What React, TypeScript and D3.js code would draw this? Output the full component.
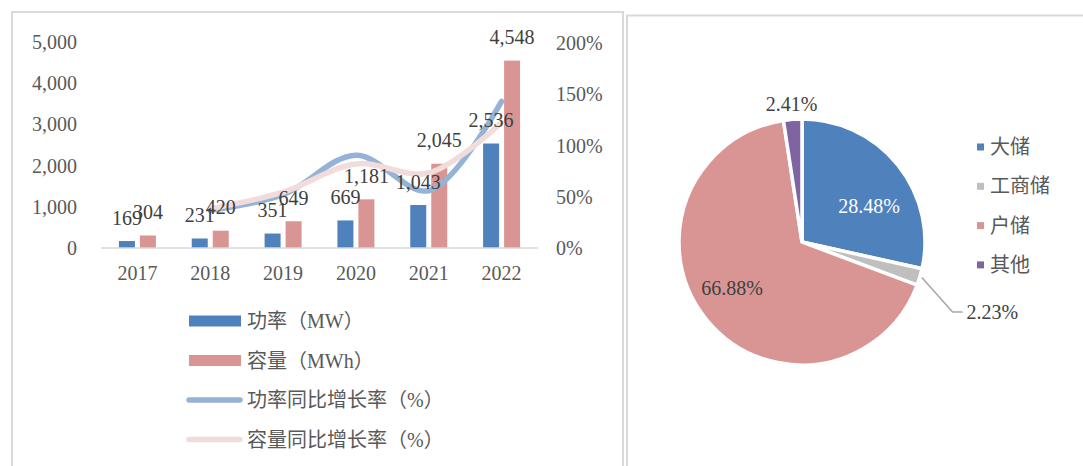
import React from "react";
import * as d3 from "d3";

const years = ["2017", "2018", "2019", "2020", "2021", "2022"];
const powerMW = [169, 231, 351, 669, 1043, 2536];
const capacityMWh = [304, 420, 649, 1181, 2045, 4548];
const powerGrowth: (number | null)[] = [null, 36.7, 52.0, 90.6, 55.9, 143.1];
const capacityGrowth: (number | null)[] = [null, 38.2, 54.5, 82.0, 73.2, 122.4];
const leftTicks = [0, 1000, 2000, 3000, 4000, 5000];
const rightTicks = [0, 50, 100, 150, 200];

const pieLabels = ["大储", "工商储", "户储", "其他"];
const pieValues = [28.48, 2.23, 66.88, 2.41];
const pieColors = ["#4f81bd", "#bfbfbf", "#d99594", "#8064a2"];

const barColors = ["#4f81bd", "#d99594"];
const lineColors = ["#95b3d7", "#f2dcdb"];

const FONT = "'Liberation Serif', 'Noto Sans CJK SC', serif";
const TXT = "#595959";

export default function App() {
  const x = d3.scaleBand<string>().domain(years).range([101, 538]);
  const sub = d3
    .scaleBand<string>()
    .domain(["p", "c"])
    .range([-18.5, 18.5])
    .paddingInner(0.238);
  const yL = d3.scaleLinear().domain([0, 5000]).range([248, 42]);
  const yR = d3.scaleLinear().domain([0, 200]).range([248, 43]);
  const cx = (y: string) => (x(y) as number) + x.bandwidth() / 2;

  const line = d3
    .line<{ yr: string; v: number | null }>()
    .defined((d) => d.v != null)
    .x((d) => cx(d.yr))
    .y((d) => yR(d.v as number))
    .curve(d3.curveCatmullRom.alpha(0.5));

  const growthSeries = [powerGrowth, capacityGrowth].map((arr) =>
    years.map((yr, i) => ({ yr, v: arr[i] }))
  );

  const pcx = 802;
  const pcy = 242;
  const R = 123;
  const pie = d3
    .pie<number>()
    .sort(null)
    .value((d) => d)
    .startAngle(0)
    .endAngle(2 * Math.PI);
  const arcs = pie(pieValues);
  const arc = d3.arc<d3.PieArcDatum<number>>().innerRadius(0).outerRadius(R);
  const polar = (ang: number, r: number) => [
    Math.sin(ang) * r,
    -Math.cos(ang) * r,
  ];
  const mid = (a: d3.PieArcDatum<number>) => (a.startAngle + a.endAngle) / 2;

  const legendLeft = [
    { type: "rect", color: barColors[0], label: "功率（MW）" },
    { type: "rect", color: barColors[1], label: "容量（MWh）" },
    { type: "line", color: lineColors[0], label: "功率同比增长率（%）" },
    { type: "line", color: lineColors[1], label: "容量同比增长率（%）" },
  ];

  const grayArc = arcs[1];
  const gEdge = polar(mid(grayArc), R + 2);
  const gBend = polar(mid(grayArc) + 0.146, R + 43);

  return (
    <svg
      width={1083}
      height={466}
      style={{ position: "absolute", left: 0, top: 0, background: "#fff" }}
      fontFamily={FONT}
    >
      <rect x={0} y={0} width={1083} height={466} fill="#fff" />
      <rect x={12} y={12} width={611} height={470} fill="none" stroke="#d9d9d9" strokeWidth={2} />
      <rect x={627} y={15.5} width={470} height={470} fill="none" stroke="#d9d9d9" strokeWidth={2} />

      {leftTicks.map((t) => (
        <text key={t} x={77} y={yL(t)} dy="0.35em" textAnchor="end" fontSize={20} fill={TXT}>
          {d3.format(",")(t)}
        </text>
      ))}
      {rightTicks.map((t) => (
        <text key={t} x={556} y={yR(t)} dy="0.35em" textAnchor="start" fontSize={20} fill={TXT}>
          {t + "%"}
        </text>
      ))}

      {years.map((yr, i) => (
        <g key={yr}>
          {[powerMW[i], capacityMWh[i]].map((v, j) => {
            const bx = cx(yr) + (sub(j === 0 ? "p" : "c") as number);
            return (
              <rect
                key={j}
                x={bx}
                y={yL(v)}
                width={sub.bandwidth()}
                height={yL(0) - yL(v)}
                fill={barColors[j]}
              />
            );
          })}
        </g>
      ))}

      <line x1={101} x2={538} y1={248} y2={248} stroke="#d9d9d9" strokeWidth={1.5} />

      {years.map((yr) => (
        <text key={yr} x={cx(yr)} y={273} dy="0.35em" textAnchor="middle" fontSize={20} fill={TXT}>
          {yr}
        </text>
      ))}

      {growthSeries.map((s, i) => (
        <path
          key={i}
          d={line(s) || ""}
          fill="none"
          stroke={lineColors[i]}
          strokeWidth={5.5}
          strokeLinecap="round"
        />
      ))}

      {years.map((yr, i) => (
        <g key={"lb" + yr}>
          {[powerMW[i], capacityMWh[i]].map((v, j) => {
            const bx = cx(yr) + (sub(j === 0 ? "p" : "c") as number) + sub.bandwidth() / 2;
            return (
              <text
                key={j}
                x={bx}
                y={yL(v) - 16.5}
                textAnchor="middle"
                fontSize={20}
                fill="#404040"
              >
                {d3.format(",")(v)}
              </text>
            );
          })}
        </g>
      ))}

      {legendLeft.map((l, i) => {
        const ly = 321 + i * 39.5;
        return (
          <g key={l.label}>
            {l.type === "rect" ? (
              <rect x={189} y={ly - 5.5} width={52} height={11} fill={l.color} />
            ) : (
              <line
                x1={189}
                x2={240}
                y1={ly}
                y2={ly}
                stroke={l.color}
                strokeWidth={5.5}
                strokeLinecap="round"
              />
            )}
            <text x={247} y={ly} dy="0.35em" fontSize={20} fill={TXT}>
              {l.label}
            </text>
          </g>
        );
      })}

      <g transform={`translate(${pcx},${pcy})`}>
        {arcs.map((a, i) => (
          <path key={i} d={arc(a) || ""} fill={pieColors[i]} stroke="#fff" strokeWidth={3.5} strokeLinejoin="miter" />
        ))}
        {(() => {
          const a0 = arcs[0];
          const p0 = polar(mid(a0) + 0.18, R * 0.62);
          const a2 = arcs[2];
          const p2 = polar(mid(a2) + 0.1, R * 0.68);
          const a3 = arcs[3];
          const p3 = polar(mid(a3), R + 15);
          return (
            <g fontSize={20}>
              <text x={p0[0]} y={p0[1]} dy="0.35em" textAnchor="middle" fill="#fff">
                {pieValues[0].toFixed(2) + "%"}
              </text>
              <text x={p2[0]} y={p2[1]} dy="0.35em" textAnchor="middle" fill="#404040">
                {pieValues[2].toFixed(2) + "%"}
              </text>
              <text x={p3[0]} y={p3[1]} dy="0.35em" textAnchor="middle" fill="#404040">
                {pieValues[3].toFixed(2) + "%"}
              </text>
              <polyline
                points={`${gEdge[0]},${gEdge[1]} ${gBend[0]},${gBend[1]} ${gBend[0] + 10},${gBend[1]}`}
                fill="none"
                stroke="#a6a6a6"
                strokeWidth={1.5}
              />
              <text x={gBend[0] + 14} y={gBend[1]} dy="0.35em" textAnchor="start" fill="#404040">
                {pieValues[1].toFixed(2) + "%"}
              </text>
            </g>
          );
        })()}
      </g>

      {pieLabels.map((l, i) => {
        const ly = 147 + i * 39.3;
        return (
          <g key={l}>
            <rect x={977} y={ly - 3.5} width={7} height={7} fill={pieColors[i]} />
            <text x={990} y={ly} dy="0.35em" fontSize={20} fill={TXT}>
              {l}
            </text>
          </g>
        );
      })}
    </svg>
  );
}
